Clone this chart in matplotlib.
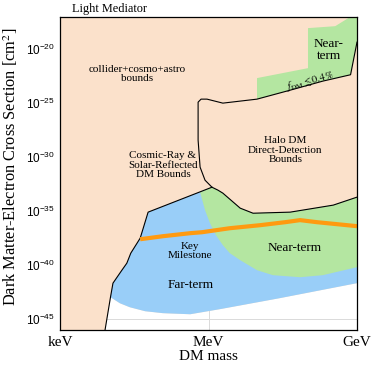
import numpy as np
import matplotlib.pyplot as plt

# Fonts .............................................................................................
plt.rcParams['font.family'] = 'Liberation Serif'
plt.rcParams['mathtext.fontset'] = 'stix'

# Data (log10 of DM mass in MeV, log10 of cross section in cm^2) ....................................

# Axis range
XLIM = (-3.0, 3.0)
YLIM = (-46.0, -17.0)

# Cosmic-ray / solar-reflected boundary, bottom up to where it meets the halo curve
cr_logm = [-2.09, -1.98, -1.93, -1.75, -1.65, -1.57, -1.38, -1.22, 0.07]
cr_logs = [-46.0, -42.96, -41.66, -40.46, -39.81, -38.88, -37.49, -35.08, -32.77]

# Halo DM direct-detection outline: right edge (bottom) -> junction -> up -> right edge (top)
halo_logm = [3.0, 2.52, 1.65, 0.90, 0.64, 0.29, 0.19, 0.07, -0.07, -0.17, -0.21, -0.21,
             -0.15, -0.03, 0.29, 0.98, 1.65, 2.31, 2.87, 3.0]
halo_logs = [-33.69, -34.43, -35.08, -35.18, -34.71, -33.32, -33.04, -32.77, -32.12, -30.91,
             -28.41, -24.89, -24.61, -24.61, -24.98, -24.61, -23.78, -22.94, -22.35, -19.33]
N_HALO_LOW = 8   # first 8 points: lower edge of halo region

# Far-term lower edge (left to right)
far_low_logm = [-1.98, -1.79, -1.59, -1.28, -0.92, -0.37, 0.23, 1.44, 3.0]
far_low_logs = [-42.96, -43.52, -43.89, -44.26, -44.44, -44.54, -44.07, -43.05, -41.66]

# Near-term lower/left edge (from cosmic-ray line to right edge)
near_logm = [-0.17, -0.07, 0.03, 0.15, 0.29, 0.43, 0.64, 0.98, 1.30, 1.85, 2.31, 3.0]
near_logs = [-33.23, -34.90, -36.10, -37.22, -38.14, -38.88, -39.53, -40.46, -40.92, -41.11,
             -40.92, -40.18]

# Near-term region for sub-component DM (f_DM <= 0.4 %)
top_logm = [0.98, 0.98, 2.01, 2.01, 2.56, 2.86, 3.0, 3.0, 2.87, 2.31, 1.65, 0.98]
top_logs = [-24.70, -22.66, -21.74, -18.03, -17.85, -17.0, -17.0, -19.33, -22.35, -22.94,
            -23.78, -24.61]

# Key milestone line
key_logm = [-1.38, -0.92, -0.37, -0.13, 0.43, 1.04, 1.55, 1.85, 2.19, 3.0]
key_logs = [-37.59, -37.31, -37.03, -36.94, -36.57, -36.29, -36.01, -35.82, -36.01, -36.38]

# Ticks
xtick_exp = [-3, 0, 3]
xtick_labels = ['keV', 'MeV', 'GeV']
ytick_exp = [-45, -40, -35, -30, -25, -20]

# Colours
PEACH = '#FBE1CB'
BLUE = '#99CEF8'
GREEN = '#B4E6A1'
ORANGE = '#FF9A10'


def pts(logm, logs):
    return 10**np.asarray(logm, float), 10**np.asarray(logs, float)


# Figure ............................................................................................
fig = plt.figure(figsize = (3.74, 3.65), dpi = 100)
ax = fig.add_axes([60/374, 35/365, 297/374, 313/365])
ax.set_xscale('log')
ax.set_yscale('log')
ax.set_xlim(10**XLIM[0], 10**XLIM[1])
ax.set_ylim(10**YLIM[0], 10**YLIM[1])
ax.set_facecolor('white')
ax.set_axisbelow(True)
ax.grid(True, which = 'major', color = '#DADADA', lw = 0.7)

# Peach: everything except the white corner
peach_m = [XLIM[0]] + cr_logm[:2] + far_low_logm[1:] + [XLIM[1], XLIM[0]]
peach_s = [YLIM[0]] + cr_logs[:2] + far_low_logs[1:] + [YLIM[1], YLIM[1]]
ax.fill(*pts(peach_m, peach_s), color = PEACH, lw = 0)

# Far-term (blue)
blue_m = cr_logm[1:] + halo_logm[:N_HALO_LOW][::-1] + far_low_logm[::-1]
blue_s = cr_logs[1:] + halo_logs[:N_HALO_LOW][::-1] + far_low_logs[::-1]
ax.fill(*pts(blue_m, blue_s), color = BLUE, lw = 0)

# Near-term (green)
green_m = near_logm + halo_logm[:N_HALO_LOW]
green_s = near_logs + halo_logs[:N_HALO_LOW]
ax.fill(*pts(green_m, green_s), color = GREEN, lw = 0)
ax.fill(*pts(top_logm, top_logs), color = GREEN, lw = 0)

# Boundaries
ax.plot(*pts(cr_logm, cr_logs), color = 'black', lw = 0.8)
ax.plot(*pts(halo_logm, halo_logs), color = 'black', lw = 0.8)

# Key milestone
ax.plot(*pts(key_logm, key_logs), color = ORANGE, lw = 3.0, solid_capstyle = 'butt')

# Labels inside the plot
def label(lm, ls, s, **kw):
    ax.text(10**lm, 10**ls, s, ha = 'center', va = 'center', linespacing = 1.05, **kw)

label(-1.44, -22.3, 'collider+cosmo+astro\nbounds', fontsize = 8)
label(-0.92, -30.73, 'Cosmic-Ray &\nSolar-Reflected\nDM Bounds', fontsize = 8)
label(1.55, -29.34, 'Halo DM\nDirect-Detection\nBounds', fontsize = 8)
label(2.43, -20.07, 'Near-\nterm', fontsize = 9.5)
label(2.05, -22.9, r'$f_{\rm DM} \lesssim 0.4\,\%$', fontsize = 7.5, rotation = 15)
label(-0.37, -38.70, 'Key\nMilestone', fontsize = 8)
label(-0.37, -41.85, 'Far-term', fontsize = 9.5)
label(1.75, -38.42, 'Near-term', fontsize = 9.5)

ax.text(12/297, 1 + 5/313, 'Light Mediator', transform = ax.transAxes, fontsize = 8.8,
        ha = 'left', va = 'baseline')

# Axes, ticks, labels
ax.minorticks_off()
ax.set_xticks([10.0**e for e in xtick_exp], xtick_labels, fontsize = 11)
ax.set_yticks([10.0**e for e in ytick_exp],
              [r'$\mathdefault{10^{%d}}$' % e for e in ytick_exp],
              fontsize = 8.5, fontfamily = 'Liberation Sans')
ax.tick_params(length = 0)
ax.tick_params(axis = 'x', pad = 4)
ax.tick_params(axis = 'y', pad = 3.5)
ax.set_xlabel('DM mass', fontsize = 11)
ax.set_ylabel(r'Dark Matter-Electron Cross Section [cm$^2$]', fontsize = 11.8)
ax.xaxis.set_label_coords(0.5, -0.064)
ax.yaxis.set_label_coords(-0.133, 0.52)
for sp in ax.spines.values():
    sp.set_linewidth(0.9)

fig.savefig('out.png', dpi = 100)
